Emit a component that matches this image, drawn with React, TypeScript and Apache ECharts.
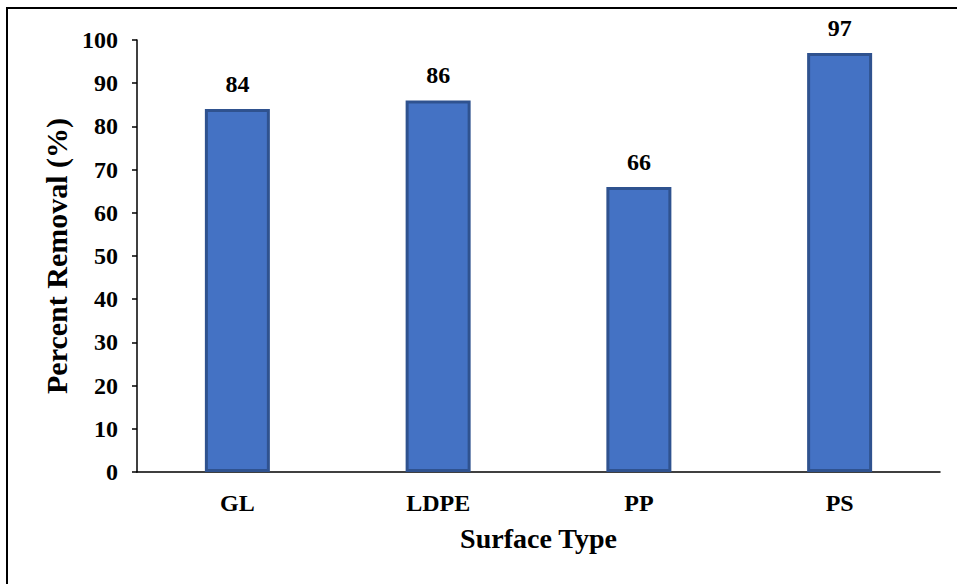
import React, { useEffect, useRef } from "react";
import * as echarts from "echarts";

const categories = ["GL", "LDPE", "PP", "PS"];
const removal = [84, 86, 66, 97];
const yTicks = { min: 0, max: 100, interval: 10 };

const FONT = '"Liberation Serif", "Times New Roman", serif';

export default function App() {
  const ref = useRef<HTMLDivElement>(null);
  useEffect(() => {
    if (!ref.current) return;
    const chart = echarts.init(ref.current, null, { renderer: "svg" });
    chart.setOption({
      animation: false,
      backgroundColor: "#ffffff",
      grid: { left: 137, right: 17, top: 40, bottom: 112, containLabel: false },
      graphic: [
        {
          type: "rect",
          shape: { x: 7, y: 8, width: 1000, height: 1000 },
          style: { fill: "none", stroke: "#000", lineWidth: 2 },
          silent: true,
        },
      ],
      xAxis: {
        type: "category",
        data: categories,
        name: "Surface Type",
        nameLocation: "middle",
        nameGap: 52,
        nameTextStyle: { fontFamily: FONT, fontWeight: "bold", fontSize: 28, color: "#000" },
        axisLine: { show: true, lineStyle: { color: "#000", width: 1.5 } },
        axisTick: { show: false },
        axisLabel: { fontFamily: FONT, fontWeight: "bold", fontSize: 24, color: "#000", margin: 19 },
        splitLine: { show: false },
      },
      yAxis: {
        type: "value",
        min: yTicks.min,
        max: yTicks.max,
        interval: yTicks.interval,
        name: "Percent Removal (%)",
        nameLocation: "middle",
        nameGap: 59,
        nameRotate: 90,
        nameTextStyle: { fontFamily: FONT, fontWeight: "bold", fontSize: 30, color: "#000" },
        axisLine: { show: true, lineStyle: { color: "#000", width: 1.5 } },
        axisTick: { show: true, length: 5, lineStyle: { color: "#000", width: 1.5 } },
        axisLabel: { fontFamily: FONT, fontWeight: "bold", fontSize: 24, color: "#000", margin: 19 },
        splitLine: { show: false },
      },
      series: [
        {
          type: "bar",
          data: removal,
          barWidth: 65,
          itemStyle: { color: "#4472C4", borderColor: "#2F528F", borderWidth: 3 },
          label: {
            show: true,
            position: "top",
            distance: 13,
            fontFamily: FONT,
            fontWeight: "bold",
            fontSize: 24,
            color: "#000",
          },
        },
      ],
    });
    return () => chart.dispose();
  }, []);
  return (
    <div
      ref={ref}
      style={{ position: "fixed", left: 0, top: 0, width: 957, height: 584, background: "#fff" }}
    />
  );
}
